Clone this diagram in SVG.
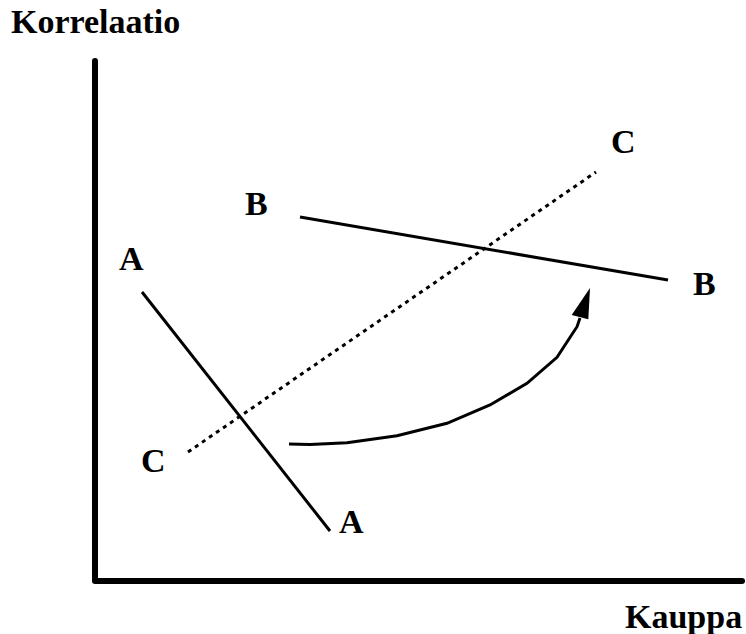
<svg xmlns="http://www.w3.org/2000/svg" width="746" height="634" viewBox="0 0 746 634">
<style>
text{font-family:"Liberation Serif","Times New Roman",serif;font-weight:bold;font-size:34px;fill:#000}
.ln{stroke:#000;stroke-width:3;fill:none}
.dot{stroke:#000;stroke-width:3;fill:none;stroke-dasharray:4 4.5}
.ax{stroke:#000;stroke-width:6;fill:none;stroke-linecap:round;stroke-linejoin:round}
</style>
<g id="axes">
<polyline class="ax" points="95,61 95,581 742,581"/>
<text x="11" y="33">Korrelaatio</text>
<text x="625" y="628">Kauppa</text>
</g>
<g id="lineA">
<line class="ln" x1="142" y1="292" x2="330" y2="531"/>
<text x="339" y="533">A</text>
<text x="119" y="270">A</text>
</g>
<g id="lineB">
<line class="ln" x1="300" y1="217" x2="668" y2="280"/>
<text x="245" y="215">B</text>
<text x="693" y="295">B</text>
</g>
<g id="lineC">
<line class="dot" x1="188" y1="452" x2="596" y2="172"/>
<text x="611" y="153">C</text>
<text x="141" y="472">C</text>
</g>
<g id="connectors">
<polyline class="ln" points="289,444 310,444.5 347,442.7 397,435.7 447,423.3 490,405 527,383.3 557,357.3 577,326.7 580,318"/>
<polygon points="571.7,315 588.3,319.3 590,288" fill="#000"/>
</g>
</svg>
